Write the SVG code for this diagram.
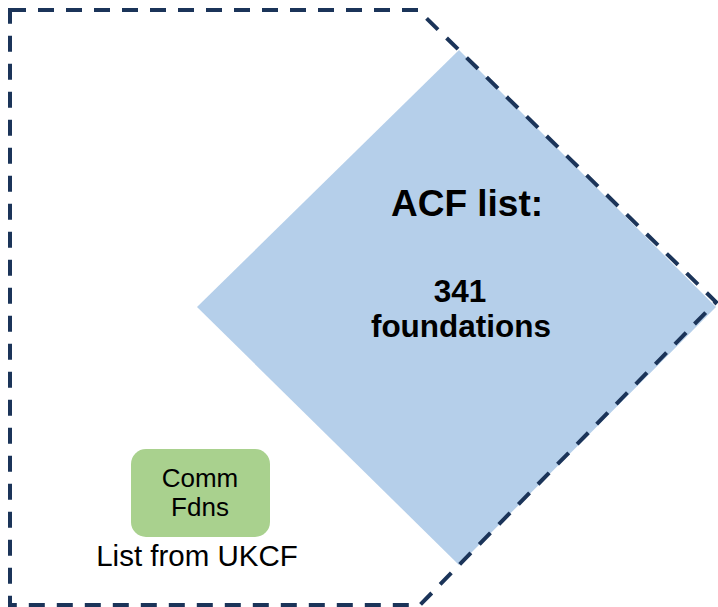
<svg xmlns="http://www.w3.org/2000/svg" width="718" height="607" viewBox="0 0 718 607">
<style>
  text { font-family: "Liberation Sans", Arial, sans-serif; fill: #000; text-anchor: middle; }
  .b { font-weight: bold; }
</style>
<rect width="718" height="607" fill="#fff"/>
<g id="acf">
  <polygon points="459,50 716,307 459,565 197,307" fill="#B5CFEA"/>
  <text class="b" x="467" y="216" font-size="37">ACF list:</text>
  <text class="b" x="460" y="302" font-size="31.5">341</text>
  <text class="b" x="461" y="337" font-size="31.5">foundations</text>
</g>
<g id="outline">
  <polygon points="10,10 418,10 716,302 420,605 10,605" fill="none" stroke="#1B3459" stroke-width="4" stroke-dasharray="16,12"/>
</g>
<g id="comm">
  <rect x="131" y="449" width="139" height="88" rx="15" fill="#A9D18E"/>
  <text x="200" y="487" font-size="26">Comm</text>
  <text x="200" y="516" font-size="26">Fdns</text>
  <text x="197" y="566" font-size="29.5">List from UKCF</text>
</g>
<g id="connectors"/>
</svg>
